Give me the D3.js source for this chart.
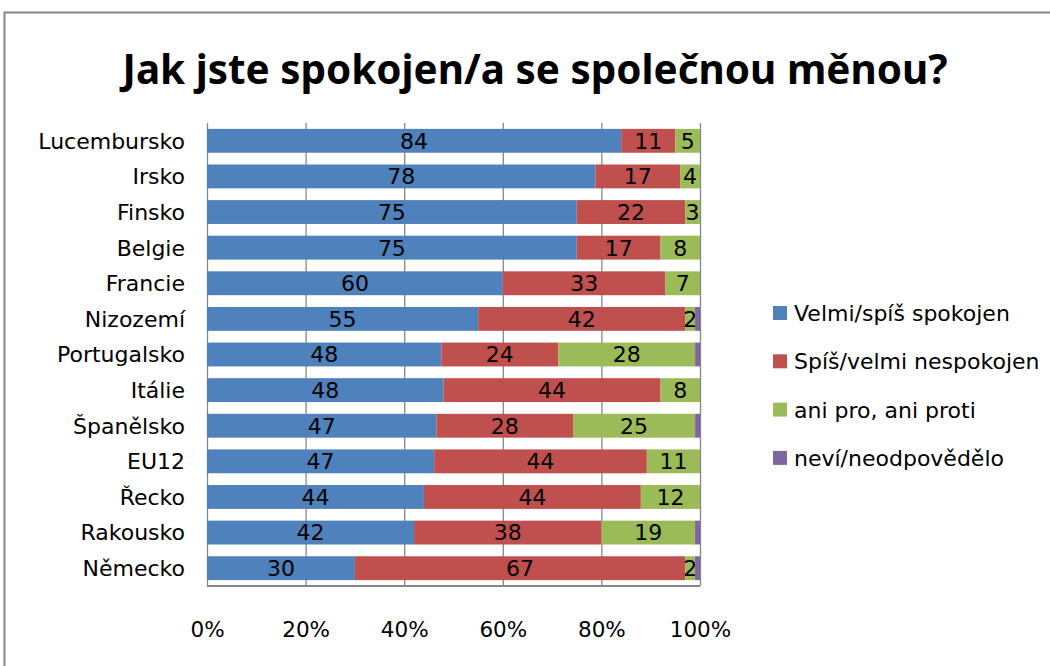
<!DOCTYPE html>
<html>
<head>
<meta charset="utf-8">
<script src="https://cdn.jsdelivr.net/npm/d3@7"></script>
<style>
  body { margin: 0; background: #fff; }
  text { font-family: "DejaVu Sans", "Noto Sans", sans-serif; }
</style>
</head>
<body>
<div id="chart"></div>
<script>
// categories, top to bottom
var countries = ['Lucembursko', 'Irsko', 'Finsko', 'Belgie', 'Francie', 'Nizozemí', 'Portugalsko',
                 'Itálie', 'Španělsko', 'EU12', 'Řecko', 'Rakousko', 'Německo'];

var seriesNames = ['Velmi/spíš spokojen', 'Spíš/velmi nespokojen', 'ani pro, ani proti', 'neví/neodpovědělo'];
var seriesColors = ['#4f81bd', '#c0504d', '#9bbb59', '#8064a2'];

// values per series, same order as countries
var satisfied   = [84, 78, 75, 75, 60, 55, 48, 48, 47, 47, 44, 42, 30];
var unsatisfied = [11, 17, 22, 17, 33, 42, 24, 44, 28, 44, 44, 38, 67];
var neutral     = [ 5,  4,  3,  8,  7,  2, 28,  8, 25, 11, 12, 19,  2];
var dontKnow    = [ 0,  0,  0,  0,  0,  1,  1,  0,  1,  0,  0,  1,  1];

var tickValues = [0, 0.2, 0.4, 0.6, 0.8, 1];

var width = 1050, height = 666;

var rows = countries.map(function(c, i) {
	return { country: c, s0: satisfied[i], s1: unsatisfied[i], s2: neutral[i], s3: dontKnow[i] };
});
var keys = ['s0', 's1', 's2', 's3'];

var svg = d3.select('#chart').append('svg')
	.attr('width', width).attr('height', height);

// outer chart frame
svg.append('rect')
	.attr('x', 4.5).attr('y', 12.5)
	.attr('width', width + 20).attr('height', height + 20)
	.attr('fill', 'none').attr('stroke', '#868686').attr('stroke-width', 2);

svg.append('text')
	.attr('x', 535).attr('y', 84)
	.attr('text-anchor', 'middle')
	.attr('font-size', 42).attr('font-weight', 'bold')
	.attr('textLength', 825).attr('lengthAdjust', 'spacingAndGlyphs')
	.style('font-family', '"Liberation Sans Narrow", "Noto Sans", sans-serif')
	.text('Jak jste spokojen/a se společnou měnou?');

var x = d3.scaleLinear().domain([0, 1]).range([207, 700]);
var y = d3.scaleBand().domain(countries).range([123, 586]).paddingInner(0.33).paddingOuter(0.165);

var stack = d3.stack().keys(keys).offset(d3.stackOffsetExpand);
var layers = stack(rows);

// gridlines + percent labels
var xAxis = d3.axisBottom(x)
	.tickValues(tickValues)
	.tickFormat(d3.format('.0%'))
	.tickSize(-(586 - 123))
	.tickPadding(36);

var gx = svg.append('g')
	.attr('transform', 'translate(0,586)')
	.call(xAxis);
gx.select('.domain').remove();
gx.selectAll('.tick line').attr('stroke', '#868686').attr('stroke-width', 1.3);
gx.selectAll('.tick text')
	.attr('fill', '#000')
	.attr('font-size', 21.5)
	.style('font-family', '"DejaVu Sans", sans-serif');

// bottom border of plot area
svg.append('line')
	.attr('x1', x(0)).attr('x2', x(1))
	.attr('y1', 586).attr('y2', 586)
	.attr('stroke', '#868686').attr('stroke-width', 2);

var layer = svg.selectAll('.layer')
	.data(layers)
	.enter().append('g')
	.attr('class', 'layer')
	.attr('fill', function(d, i) { return seriesColors[i]; });

layer.selectAll('rect')
	.data(function(d) { return d; })
	.enter().append('rect')
	.attr('x', function(d) { return x(d[0]); })
	.attr('width', function(d) { return x(d[1]) - x(d[0]); })
	.attr('y', function(d) { return y(d.data.country); })
	.attr('height', y.bandwidth());

// value labels for the first three series
layer.filter(function(d, i) { return i < 3; })
	.selectAll('text')
	.data(function(d) { return d.map(function(p) { p.key = d.key; return p; }); })
	.enter().append('text')
	.attr('x', function(d) { return (x(d[0]) + x(d[1])) / 2; })
	.attr('y', function(d) { return y(d.data.country) + y.bandwidth() / 2; })
	.attr('dy', '0.36em')
	.attr('text-anchor', 'middle')
	.attr('fill', '#000')
	.attr('font-size', 22)
	.text(function(d) { return d.data[d.key]; });

// category labels
svg.selectAll('.cat')
	.data(countries)
	.enter().append('text')
	.attr('class', 'cat')
	.attr('x', 185)
	.attr('y', function(d) { return y(d) + y.bandwidth() / 2; })
	.attr('dy', '0.36em')
	.attr('text-anchor', 'end')
	.attr('font-size', 22)
	.text(function(d) { return d; });

// legend
var legend = svg.selectAll('.legend')
	.data(seriesNames)
	.enter().append('g')
	.attr('class', 'legend')
	.attr('transform', function(d, i) { return 'translate(773,' + (313 + i * 48.3) + ')'; });

legend.append('rect')
	.attr('x', 0).attr('y', -7)
	.attr('width', 14).attr('height', 14)
	.attr('fill', function(d, i) { return seriesColors[i]; });

legend.append('text')
	.attr('x', 21).attr('y', 0)
	.attr('dy', '0.36em')
	.attr('font-size', 22)
	.text(function(d) { return d; });
</script>
</body>
</html>
